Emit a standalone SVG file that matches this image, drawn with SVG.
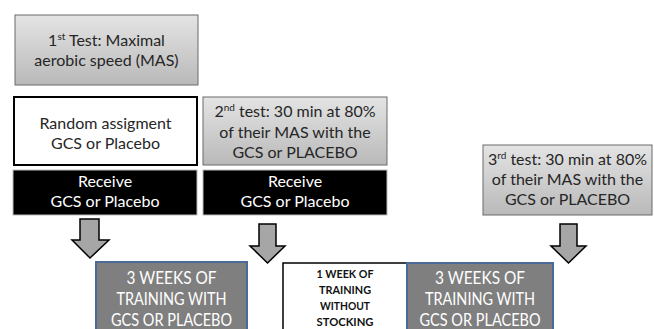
<svg xmlns="http://www.w3.org/2000/svg" width="654" height="329" viewBox="0 0 654 329">
<defs>
<linearGradient id="gg" x1="0" y1="0" x2="0" y2="1">
<stop offset="0" stop-color="#e4e4e4"/>
<stop offset="1" stop-color="#b9b9b9"/>
</linearGradient>
</defs>
<style>
text{font-family:Lato,"Open Sans","Liberation Sans",sans-serif;text-anchor:middle}
.g{fill:url(#gg);stroke:#6a6a6a;stroke-width:1}
.t{font-size:16px;fill:#262626}
.w{font-size:16px;fill:#ffffff}
.wb{font-size:18px;fill:#ffffff}
.blk{fill:#000;stroke:#bbbbbb;stroke-width:1}
.dk{fill:#7f7f7f;stroke:#4a6a9a;stroke-width:2}
.arr{fill:#a6a6a6;stroke:#000;stroke-width:1.5;stroke-linejoin:miter}
.s{font-size:10px}
.sm{font-size:11.5px;fill:#111;font-weight:bold}
</style>
<rect width="654" height="329" fill="#fff"/>
<g id="test1">
<rect class="g" x="15" y="15" width="183" height="70"/>
<text class="t" x="106.5" y="46">1<tspan class="s" dy="-6">st</tspan><tspan dy="6"> Test: Maximal</tspan></text>
<text class="t" x="106.5" y="66">aerobic speed (MAS)</text>
</g>
<g id="random">
<rect x="14" y="97" width="183" height="68" fill="#fff" stroke="#000" stroke-width="2"/>
<text class="t" x="105.5" y="129">Random assigment</text>
<text class="t" x="105.5" y="149">GCS or Placebo</text>
</g>
<g id="test2">
<rect class="g" x="203" y="97" width="184" height="68"/>
<text class="t" x="295" y="117">2<tspan class="s" dy="-6">nd</tspan><tspan dy="6"> test: 30 min at 80%</tspan></text>
<text class="t" x="295" y="138">of their MAS with the</text>
<text class="t" x="295" y="158">GCS or PLACEBO</text>
</g>
<g id="receive1">
<rect class="blk" x="13" y="170" width="184" height="45"/>
<text class="w" x="105" y="187">Receive</text>
<text class="w" x="105" y="207">GCS or Placebo</text>
</g>
<g id="receive2">
<rect class="blk" x="203" y="170" width="184" height="45"/>
<text class="w" x="295" y="187">Receive</text>
<text class="w" x="295" y="207">GCS or Placebo</text>
</g>
<g id="test3">
<rect class="g" x="483" y="145" width="169" height="70"/>
<text class="t" x="567.5" y="165">3<tspan class="s" dy="-6">rd</tspan><tspan dy="6"> test: 30 min at 80%</tspan></text>
<text class="t" x="567.5" y="185">of their MAS with the</text>
<text class="t" x="567.5" y="205">GCS or PLACEBO</text>
</g>
<g id="training1">
<rect class="dk" x="96" y="262" width="151" height="72"/>
<text class="wb" x="171.5" y="284" textLength="90" lengthAdjust="spacingAndGlyphs">3 WEEKS OF</text>
<text class="wb" x="171.5" y="305" textLength="110" lengthAdjust="spacingAndGlyphs">TRAINING WITH</text>
<text class="wb" x="171.5" y="326" textLength="121" lengthAdjust="spacingAndGlyphs">GCS OR PLACEBO</text>
</g>
<g id="rest">
<rect x="283" y="263" width="124" height="72" fill="#fff" stroke="#000" stroke-width="1.5"/>
<text class="sm" x="345" y="278" textLength="57" lengthAdjust="spacingAndGlyphs">1 WEEK OF</text>
<text class="sm" x="345" y="294" textLength="52" lengthAdjust="spacingAndGlyphs">TRAINING</text>
<text class="sm" x="345" y="310" textLength="50" lengthAdjust="spacingAndGlyphs">WITHOUT</text>
<text class="sm" x="345" y="326" textLength="57" lengthAdjust="spacingAndGlyphs">STOCKING</text>
</g>
<g id="training2">
<rect class="dk" x="407" y="263" width="146" height="72"/>
<text class="wb" x="480" y="284" textLength="90" lengthAdjust="spacingAndGlyphs">3 WEEKS OF</text>
<text class="wb" x="480" y="305" textLength="110" lengthAdjust="spacingAndGlyphs">TRAINING WITH</text>
<text class="wb" x="480" y="326" textLength="121" lengthAdjust="spacingAndGlyphs">GCS OR PLACEBO</text>
</g>
<g id="connectors">
<path class="arr" d="M80,219 H99 V240 H109 L90,258 L72,240 H80 Z"/>
<path class="arr" d="M259,224 H276 V246 H285 L267.5,263 L250,246 H259 Z"/>
<path class="arr" d="M560,224 H577 V246 H586 L568.5,263 L551,246 H560 Z"/>
</g>
</svg>
